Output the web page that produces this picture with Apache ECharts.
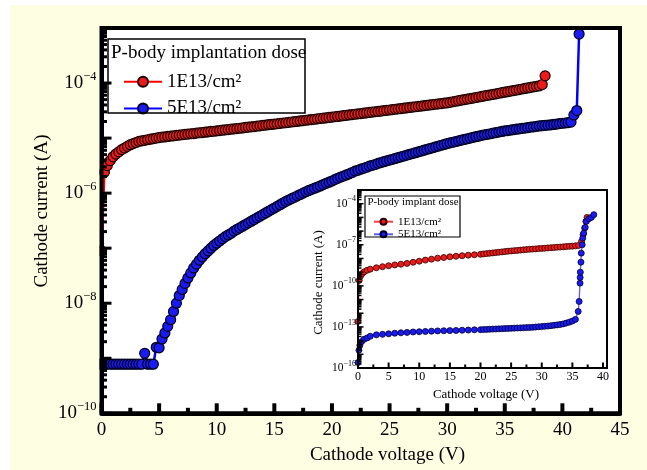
<!DOCTYPE html>
<html><head><meta charset="utf-8">
<script src="https://cdn.jsdelivr.net/npm/echarts@6/dist/echarts.min.js"></script>
<style>
html,body{margin:0;padding:0;background:#fff;}
#wrap{position:relative;width:647px;height:470px;background:#fff;overflow:hidden;}
#bg{position:absolute;left:10px;top:5px;right:0;bottom:0;background:#fefee3;}
.plot{position:absolute;background:#fff;}
#c{position:absolute;left:0;top:0;width:647px;height:470px;}
</style>
</head><body>
<div id="wrap"><div id="bg"></div><div class="plot" id="pm"></div><div class="plot" id="pi"></div><div id="c"></div></div>
<script>
// ---------- data (voltage in V, current in A) ----------
const mainRedV = [0,0.25,0.5,0.75,1,1.25,1.5,1.75,2,2.25,2.5,2.75,3,3.25,3.5,3.75,4,4.25,4.5,4.75,5,5.25,5.5,5.75,6,6.25,6.5,6.75,7,7.25,7.5,7.75,8,8.25,8.5,8.75,9,9.25,9.5,9.75,10,10.25,10.5,10.75,11,11.25,11.5,11.75,12,12.25,12.5,12.75,13,13.25,13.5,13.75,14,14.25,14.5,14.75,15,15.25,15.5,15.75,16,16.25,16.5,16.75,17,17.25,17.5,17.75,18,18.25,18.5,18.75,19,19.25,19.5,19.75,20,20.25,20.5,20.75,21,21.25,21.5,21.75,22,22.25,22.5,22.75,23,23.25,23.5,23.75,24,24.25,24.5,24.75,25,25.25,25.5,25.75,26,26.25,26.5,26.75,27,27.25,27.5,27.75,28,28.25,28.5,28.75,29,29.25,29.5,29.75,30,30.25,30.5,30.75,31,31.25,31.5,31.75,32,32.25,32.5,32.75,33,33.25,33.5,33.75,34,34.25,34.5,34.75,35,35.25,35.5,35.75,36,36.25,36.5,36.75,37,37.25,37.5,37.75,38,38.25,38.5];
const mainRedI = [8.9e-8,2.4e-6,3.16e-6,3.89e-6,4.57e-6,5.13e-6,5.62e-6,6.17e-6,6.61e-6,7.08e-6,7.59e-6,7.94e-6,8.32e-6,8.71e-6,8.91e-6,9.12e-6,9.33e-6,9.55e-6,9.77e-6,1.0e-5,1.02e-5,
1.04e-5,1.05e-5,1.07e-5,1.09e-5,1.10e-5,1.12e-5,1.13e-5,1.15e-5,1.17e-5,1.18e-5,1.20e-5,1.21e-5,1.23e-5,1.25e-5,1.26e-5,1.28e-5,1.30e-5,1.32e-5,1.33e-5,1.35e-5,
1.37e-5,1.39e-5,1.41e-5,1.43e-5,1.45e-5,1.47e-5,1.49e-5,1.51e-5,1.53e-5,1.56e-5,1.58e-5,1.60e-5,1.62e-5,1.65e-5,1.67e-5,1.70e-5,1.72e-5,1.75e-5,1.77e-5,1.80e-5,1.82e-5,1.85e-5,1.88e-5,1.90e-5,1.93e-5,1.96e-5,1.99e-5,2.02e-5,2.05e-5,2.08e-5,2.11e-5,2.14e-5,2.17e-5,2.20e-5,2.23e-5,2.27e-5,2.30e-5,2.33e-5,2.37e-5,2.40e-5,
2.44e-5,2.47e-5,2.51e-5,2.55e-5,2.59e-5,2.63e-5,2.67e-5,2.71e-5,2.75e-5,2.79e-5,2.83e-5,2.88e-5,2.92e-5,2.96e-5,3.01e-5,3.05e-5,3.10e-5,3.15e-5,3.19e-5,3.24e-5,3.29e-5,3.34e-5,3.39e-5,3.44e-5,3.49e-5,3.55e-5,3.60e-5,3.66e-5,3.71e-5,3.77e-5,3.82e-5,3.88e-5,3.94e-5,4.00e-5,4.06e-5,4.12e-5,4.18e-5,4.24e-5,4.31e-5,4.37e-5,
4.47e-5,4.57e-5,4.67e-5,4.78e-5,4.89e-5,5.00e-5,5.11e-5,5.22e-5,5.34e-5,5.46e-5,5.58e-5,5.71e-5,5.84e-5,5.97e-5,6.10e-5,6.24e-5,6.38e-5,6.52e-5,6.67e-5,6.82e-5,6.97e-5,7.13e-5,7.29e-5,7.45e-5,7.62e-5,7.79e-5,7.97e-5,8.15e-5,8.33e-5,8.52e-5,8.71e-5,8.91e-5,
9.4e-5,1.35e-4];

const mainBlueV = [0,0.25,0.5,0.75,1,1.25,1.5,1.75,2,2.25,2.5,2.75,3,3.25,3.5,3.75,4,4.25,4.5,4.75,5,5.25,5.5,5.75,6,6.25,6.5,6.75,7,7.25,7.5,7.75,8,8.25,8.5,8.75,9,9.25,9.5,9.75,10,10.25,10.5,10.75,11,11.25,11.5,11.75,12,12.25,12.5,12.75,13,13.25,13.5,13.75,14,14.25,14.5,14.75,15,15.25,15.5,15.75,16,16.25,16.5,16.75,17,17.25,17.5,17.75,18,18.25,18.5,18.75,19,19.25,19.5,19.75,20,20.25,20.5,20.75,21,21.25,21.5,21.75,22,22.25,22.5,22.75,23,23.25,23.5,23.75,24,24.25,24.5,24.75,25,25.25,25.5,25.75,26,26.25,26.5,26.75,27,27.25,27.5,27.75,28,28.25,28.5,28.75,29,29.25,29.5,29.75,30,30.25,30.5,30.75,31,31.25,31.5,31.75,32,32.25,32.5,32.75,33,33.25,33.5,33.75,34,34.25,34.5,34.75,35,35.25,35.5,35.75,36,36.25,36.5,36.75,37,37.25,37.5,37.75,38,38.25,38.5,38.75,39,39.25,39.5,39.75,40,40.25,40.5,40.75,41,41.25,41.45];
const mainBlueI = [7.8e-10,7.8e-10,7.8e-10,7.8e-10,7.8e-10,7.8e-10,7.8e-10,7.8e-10,7.8e-10,7.8e-10,7.8e-10,7.8e-10,7.8e-10,7.8e-10,7.8e-10,1.23e-9,7.8e-10,7.8e-10,7.8e-10,1.58e-9,1.55e-9,
2.24e-9,2.88e-9,3.8e-9,5.01e-9,7.08e-9,1.0e-8,1.38e-8,1.78e-8,2.29e-8,2.88e-8,3.55e-8,4.37e-8,5.13e-8,6.03e-8,6.92e-8,7.94e-8,8.91e-8,1.0e-7,1.12e-7,1.23e-7,
1.35e-7,1.48e-7,1.62e-7,1.74e-7,1.86e-7,2.04e-7,2.19e-7,2.34e-7,2.51e-7,2.69e-7,2.88e-7,3.09e-7,3.31e-7,3.55e-7,3.80e-7,4.07e-7,4.37e-7,4.68e-7,5.01e-7,5.37e-7,5.75e-7,6.17e-7,6.61e-7,7.08e-7,7.50e-7,7.94e-7,8.41e-7,8.91e-7,9.44e-7,1.0e-6,1.06e-6,1.12e-6,1.17e-6,1.23e-6,1.29e-6,1.35e-6,1.43e-6,1.51e-6,1.58e-6,1.66e-6,
1.76e-6,1.86e-6,1.95e-6,2.04e-6,2.14e-6,2.24e-6,2.37e-6,2.51e-6,2.60e-6,2.72e-6,2.82e-6,2.95e-6,3.09e-6,3.20e-6,3.31e-6,3.47e-6,3.59e-6,3.72e-6,3.85e-6,3.98e-6,4.12e-6,4.27e-6,4.42e-6,4.57e-6,4.73e-6,4.90e-6,5.07e-6,5.25e-6,5.43e-6,5.62e-6,5.82e-6,6.03e-6,6.24e-6,6.46e-6,6.68e-6,6.92e-6,7.16e-6,7.41e-6,7.67e-6,7.94e-6,
8.18e-6,8.41e-6,8.66e-6,8.91e-6,9.17e-6,9.44e-6,9.72e-6,1.0e-5,1.03e-5,1.06e-5,1.09e-5,1.12e-5,1.15e-5,1.17e-5,1.20e-5,1.23e-5,1.26e-5,1.29e-5,1.32e-5,1.35e-5,1.37e-5,1.40e-5,1.42e-5,1.45e-5,1.47e-5,1.50e-5,1.52e-5,1.55e-5,1.58e-5,1.60e-5,1.63e-5,1.66e-5,1.68e-5,1.70e-5,1.72e-5,1.74e-5,1.77e-5,1.80e-5,1.83e-5,1.86e-5,1.88e-5,1.91e-5,1.95e-5,2.63e-5,3.16e-5,7.76e-4];

const insetRedV = [0,0.2,0.4,0.7,1,1.5,2,3,4,5,6,7,8,9,10,11,12,13,14,15,16,17,18,19,20,20.5,21,21.5,22,22.5,23,23.5,24,24.5,25,25.5,26,26.5,27,27.5,28,28.5,29,29.5,30,30.5,31,31.5,32,32.5,33,33.5,34,34.5,35,35.5,36,36.5,36.75,37,37.2,37.4];
const insetRedI = [2.5e-13,2.5e-10,5.0e-10,7.9e-10,1.05e-9,1.38e-9,1.66e-9,2.09e-9,2.51e-9,2.95e-9,3.39e-9,3.80e-9,4.37e-9,5.25e-9,6.31e-9,7.59e-9,8.91e-9,1.05e-8,1.17e-8,1.32e-8,1.45e-8,1.58e-8,1.74e-8,1.86e-8,2.0e-8,
2.14e-8,2.26e-8,2.40e-8,2.54e-8,2.69e-8,2.85e-8,3.02e-8,3.20e-8,3.39e-8,3.55e-8,3.72e-8,3.89e-8,4.07e-8,4.27e-8,4.47e-8,4.68e-8,4.84e-8,5.01e-8,5.25e-8,5.43e-8,5.62e-8,5.89e-8,6.10e-8,6.31e-8,6.61e-8,6.84e-8,7.08e-8,7.41e-8,7.67e-8,7.94e-8,8.32e-8,8.91e-8,
1.78e-7,5.37e-7,1.66e-6,5.13e-6,1.0e-5];

const insetBlueV = [0,0.15,0.3,0.6,1,1.5,2,3,4,5,6,7,8,9,10,11,12,13,14,15,16,17,18,19,20,20.5,21,21.5,22,22.5,23,23.5,24,24.5,25,25.5,26,26.5,27,27.5,28,28.5,29,29.5,30,30.5,31,31.5,32,32.5,33,33.5,34,34.5,35,35.5,35.95,36.1,36.25,36.27,36.3,36.4,36.45,36.6,36.7,36.85,37.1,37.3,37.7,38.1,38.5];
const insetBlueI = [2.51e-16,2.0e-15,4.47e-15,8.51e-15,1.26e-14,1.58e-14,2.09e-14,2.63e-14,2.88e-14,3.16e-14,3.47e-14,3.72e-14,3.98e-14,4.27e-14,4.47e-14,4.68e-14,4.90e-14,5.13e-14,5.25e-14,5.37e-14,5.50e-14,5.75e-14,5.89e-14,6.17e-14,6.31e-14,
6.46e-14,6.61e-14,6.76e-14,6.92e-14,7.08e-14,7.24e-14,7.41e-14,7.59e-14,7.76e-14,7.94e-14,8.13e-14,8.32e-14,8.51e-14,8.71e-14,8.91e-14,9.12e-14,9.33e-14,9.77e-14,1.02e-13,1.07e-13,1.12e-13,1.17e-13,1.23e-13,1.32e-13,1.41e-13,1.51e-13,1.66e-13,1.91e-13,2.24e-13,2.69e-13,3.55e-13,
1.35e-12,7.24e-12,1.58e-10,4.07e-10,1.0e-9,5.37e-9,2.45e-8,1.0e-7,3.09e-7,7.08e-7,1.86e-6,5.13e-6,7.94e-6,1.0e-5,1.58e-5];

const seriesNames = {m1:'1E13/cm\u00B2', m2:'5E13/cm\u00B2', i1:'1E13/cm\u00B2', i2:'5E13/cm\u00B2'};
const mainXTicks = [0,45,5];      // min, max, step
const insetXTicks = [0,40,5];
const mainYRange = [1e-10,1e-3];
const insetYRange = [1e-16,1e-3];

// ---------- layout ----------
const MAIN = {left: 101.5, top: 28, width: 518.5, height: 385.3};
const INSET = {left: 358, top: 190, width: 245, height: 178, extra: 4};
function placeDiv(id, r, extra) {
  const d = document.getElementById(id);
  d.style.left = r.left + 'px'; d.style.top = r.top + 'px';
  d.style.width = (r.width + (extra || 0)) + 'px'; d.style.height = r.height + 'px';
}
placeDiv('pm', MAIN); placeDiv('pi', INSET, INSET.extra);

// ---------- chart ----------
const serif = '"Liberation Serif","Times New Roman",serif';
const zip = (v, c) => v.map((x, k) => [x, c[k]]);
const expOf = v => Math.round(Math.log10(v));
const mainYFmt = v => { const e = expOf(v); return (e % 2 === 0 && e <= -4) ? '{b|10}{s|\u2212' + (-e) + '}' : ''; };
const insetYFmt = v => { const e = expOf(v); return ((e + 16) % 3 === 0 && e <= -4) ? '{b|10}{s|\u2212' + (-e) + '}' : ''; };

const chart = echarts.init(document.getElementById('c'), null, {renderer:'canvas'});

const txt = (id, x, y, text, size, rot, align) => ({type: 'text', id, z: 110, x, y, rotation: rot || 0,
  style: {text, font: size + 'px ' + serif, fill: '#000', textAlign: align || 'center', textVerticalAlign: 'middle', align: align || 'center', verticalAlign: 'middle'}});

const option = {
  animation: false,
  textStyle: {fontFamily: serif, color: '#000'},
  grid: [
    {left: MAIN.left, top: MAIN.top, width: MAIN.width, height: MAIN.height, show: false},
    {left: INSET.left, top: INSET.top, width: INSET.width, height: INSET.height, show: false}
  ],
  xAxis: [
    {type: 'value', gridIndex: 0, min: mainXTicks[0], max: mainXTicks[1], interval: mainXTicks[2],
     axisLine: {show: true, lineStyle: {color: '#000', width: 4}}, splitLine: {show: false},
     axisTick: {show: false}, minorTick: {show: false},
     axisLabel: {margin: 7, fontFamily: serif, fontSize: 19, color: '#000'}},
    {type: 'value', gridIndex: 1, min: insetXTicks[0], max: insetXTicks[1], interval: insetXTicks[2],
     axisLine: {show: true, lineStyle: {color: '#000', width: 2}}, splitLine: {show: false},
     axisTick: {show: false}, minorTick: {show: false},
     axisLabel: {margin: 3, fontFamily: serif, fontSize: 12, color: '#000'}}
  ],
  yAxis: [
    {type: 'log', logBase: 10, gridIndex: 0, min: mainYRange[0], max: mainYRange[1], interval: 1,
     axisLine: {show: true, lineStyle: {color: '#000', width: 4}}, splitLine: {show: false},
     axisTick: {show: false},
     axisLabel: {margin: 5, formatter: mainYFmt, color: '#000',
       rich: {b: {fontFamily: serif, fontSize: 19, color: '#000', lineHeight: 26},
              s: {fontFamily: serif, fontSize: 12.5, color: '#000', verticalAlign: 'top', lineHeight: 13}}}},
    {type: 'log', logBase: 10, gridIndex: 1, min: insetYRange[0], max: insetYRange[1], interval: 1,
     axisLine: {show: true, lineStyle: {color: '#000', width: 2}}, splitLine: {show: false},
     axisTick: {show: false},
     axisLabel: {margin: 2, formatter: insetYFmt, color: '#000',
       rich: {b: {fontFamily: serif, fontSize: 11.5, color: '#000', lineHeight: 17},
              s: {fontFamily: serif, fontSize: 8, color: '#000', verticalAlign: 'top', lineHeight: 8}}}}
  ],
  legend: [
    {data: ['m1', 'm2'], orient: 'vertical', left: 118, top: 66.7, itemWidth: 38, itemHeight: 12.5, itemGap: 6.7,
     selectedMode: false, formatter: n => seriesNames[n],
     textStyle: {fontFamily: serif, fontSize: 19, color: '#000', lineHeight: 20}},
    {data: ['i1', 'i2'], orient: 'vertical', left: 368, top: 210.7, itemWidth: 19, itemHeight: 7.5, itemGap: 0.6,
     selectedMode: false, formatter: n => seriesNames[n],
     textStyle: {fontFamily: serif, fontSize: 11, color: '#000', lineHeight: 12}}
  ],
  series: [
    {name: 'm1', type: 'line', xAxisIndex: 0, yAxisIndex: 0, data: zip(mainRedV, mainRedI),
     symbol: 'circle', symbolSize: 10,
     lineStyle: {color: '#ff0000', width: 2.5},
     itemStyle: {color: '#ee1a1a', borderColor: '#1a0000', borderWidth: 1.2}},
    {name: 'm2', type: 'line', xAxisIndex: 0, yAxisIndex: 0, data: zip(mainBlueV, mainBlueI),
     symbol: 'circle', symbolSize: 10,
     lineStyle: {color: '#0000ff', width: 2.5},
     itemStyle: {color: '#1a1af2', borderColor: '#00001a', borderWidth: 1.2}},
    {name: 'i1', type: 'line', xAxisIndex: 1, yAxisIndex: 1, data: zip(insetRedV, insetRedI),
     symbol: 'circle', symbolSize: 6,
     lineStyle: {color: '#ff3a3a', width: 1.3},
     itemStyle: {color: '#ee1a1a', borderColor: '#300000', borderWidth: 0.8}},
    {name: 'i2', type: 'line', xAxisIndex: 1, yAxisIndex: 1, data: zip(insetBlueV, insetBlueI),
     symbol: 'circle', symbolSize: 6,
     lineStyle: {color: '#5a5aff', width: 1.3},
     itemStyle: {color: '#1a1af2', borderColor: '#000030', borderWidth: 0.8}}
  ],
  graphic: [
    {type: 'rect', id: 'mask', z: 105, shape: {x: MAIN.left - 5.5, y: MAIN.top - 6, width: 3.5, height: MAIN.height + 12}, style: {fill: '#fefee3'}},
    {type: 'rect', id: 'frameMain', z: 110, shape: {x: MAIN.left, y: MAIN.top, width: MAIN.width, height: MAIN.height}, style: {fill: 'none', stroke: '#000', lineWidth: 4}},
    {type: 'rect', id: 'frameInset', z: 110, shape: {x: INSET.left, y: INSET.top, width: INSET.width + INSET.extra, height: INSET.height}, style: {fill: 'none', stroke: '#000', lineWidth: 2}},
    {type: 'rect', id: 'legBox', z: 110, shape: {x: 108, y: 39, width: 197, height: 74}, style: {fill: 'none', stroke: '#000', lineWidth: 1.5}},
    {type: 'rect', id: 'legBoxI', z: 110, shape: {x: 365, y: 196, width: 95, height: 41}, style: {fill: 'none', stroke: '#000', lineWidth: 1.2}},
    txt('legTitle', 111, 53, 'P-body implantation dose', 19, 0, 'left'),
    txt('legTitleI', 367.5, 202, 'P-body implant dose', 11, 0, 'left'),
    txt('xName', 387.5, 455, 'Cathode voltage (V)', 19),
    txt('yName', 42, 211, 'Cathode current (A)', 19, Math.PI / 2),
    txt('xNameI', 486, 395, 'Cathode voltage (V)', 13),
    txt('yNameI', 318.3, 282.5, 'Cathode current (A)', 13, Math.PI / 2)
  ]
};
chart.setOption(option);

// inward major/minor ticks, positioned through the axes' own scales
(function addTicks() {
  const els = [];
  let id = 0;
  const L = (x1, y1, x2, y2, w) => els.push({type: 'line', id: 'tk' + (id++), z: 115,
    shape: {x1, y1, x2, y2}, style: {stroke: '#000', lineWidth: w}});
  const specs = [
    {ax: 0, xr: mainXTicks, yr: mainYRange, xMajor: 10, xMinor: 5.5, yMajor: 10, yMinor: 5.5, wx: 4, wy: 3},
    {ax: 1, xr: insetXTicks, yr: insetYRange, xMajor: 5.5, xMinor: 3.5, yMajor: 5.5, yMinor: 3.5, wx: 2, wy: 1.5}
  ];
  specs.forEach(s => {
    const xLeft = chart.convertToPixel({xAxisIndex: s.ax}, s.xr[0]);
    const yBot = chart.convertToPixel({yAxisIndex: s.ax}, s.yr[0]);
    const half = s.xr[2] / 2;
    const nSteps = Math.round((s.xr[1] - s.xr[0]) / half);
    for (let i = 0; i <= nSteps; i++) {
      const v = s.xr[0] + i * half;
      const x = chart.convertToPixel({xAxisIndex: s.ax}, v);
      L(x, yBot, x, yBot - (i % 2 === 0 ? s.xMajor : s.xMinor), s.wx);
    }
    const e0 = expOf(s.yr[0]), e1 = expOf(s.yr[1]);
    for (let n = e0; n <= e1; n++) {
      for (let k = 1; k <= 9; k++) {
        if (n === e1 && k > 1) break;
        const y = chart.convertToPixel({yAxisIndex: s.ax}, k * Math.pow(10, n));
        L(xLeft, y, xLeft + (k === 1 ? s.yMajor : s.yMinor), y, s.wy);
      }
    }
  });
  chart.setOption({graphic: els});
})();
</script>
</body></html>
